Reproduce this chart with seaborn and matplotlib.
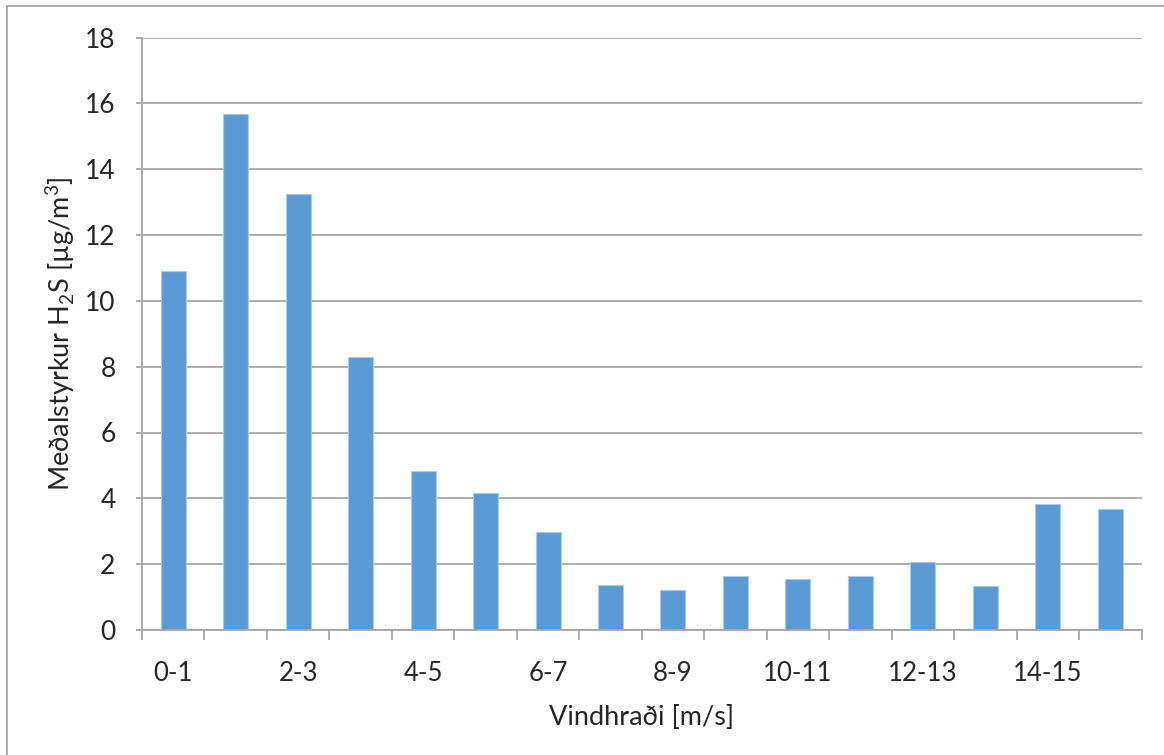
import matplotlib
matplotlib.use("Agg")
import matplotlib.pyplot as plt
from matplotlib.lines import Line2D
import seaborn as sns
import pandas as pd
import numpy as np

# Wind speed bins and mean H2S concentration per bin
bins = ["0-1", "1-2", "2-3", "3-4", "4-5", "5-6", "6-7", "7-8",
        "8-9", "9-10", "10-11", "11-12", "12-13", "13-14", "14-15", "15-16"]
mean_h2s = [10.9, 15.67, 13.26, 8.28, 4.83, 4.15, 2.97, 1.38,
            1.22, 1.64, 1.55, 1.63, 2.08, 1.33, 3.83, 3.67]
y_ticks = [0, 2, 4, 6, 8, 10, 12, 14, 16, 18]

df = pd.DataFrame({"bin": bins, "h2s": mean_h2s})

sns.set_theme(style="white")
plt.rcParams["font.family"] = ["Lato", "DejaVu Sans"]
plt.rcParams["mathtext.fontset"] = "custom"
plt.rcParams["mathtext.rm"] = "Lato"

W, H = 1164, 755
fig = plt.figure(figsize=(W / 100, H / 100), dpi=100)
ax = fig.add_axes([142 / W, 1 - 630 / H, (1141.5 - 142) / W, (630 - 37.5) / H])

grid_c = "#A6A6A6"
ax.set_axisbelow(True)

sns.barplot(data=df, x="bin", y="h2s", order=bins, color="#5B9BD5",
            width=0.4, saturation=1, edgecolor="#A9CBEA", linewidth=0.8, ax=ax)

ax.set_xlim(-0.5, len(bins) - 0.5)
ax.set_ylim(0, 18)
ax.set_yticks(y_ticks)
ax.set_yticklabels([str(t) for t in y_ticks])
ax.yaxis.grid(True, color=grid_c, linewidth=1.3)
ax.xaxis.grid(False)

# category labels on every other bin
ax.set_xticks(np.arange(0, len(bins), 2))
ax.set_xticklabels(bins[::2])
ax.set_xticks(np.arange(-0.5, len(bins), 1), minor=True)
ax.tick_params(axis="x", which="major", length=0, pad=22, labelsize=18.5)
ax.tick_params(axis="x", which="minor", length=7, width=1.3, color=grid_c, bottom=True)
ax.tick_params(axis="y", which="major", length=4, width=1.3, color=grid_c, left=True,
               labelsize=19, pad=15)

for side in ["top", "right"]:
    ax.spines[side].set_visible(False)
for side in ["left", "bottom"]:
    ax.spines[side].set_visible(True)
    ax.spines[side].set_color(grid_c)
    ax.spines[side].set_linewidth(1.3)

ax.set_xlabel("Vindhraði [m/s]", fontsize=19.5, labelpad=14)
ax.set_ylabel(r"Meðalstyrkur H$_\mathregular{2}$S [µg/m$^\mathregular{3}$]",
              fontsize=19.5, labelpad=6)

# outer chart-area border
fig.add_artist(Line2D([7 / W, 7 / W], [0, 1 - 6 / H], transform=fig.transFigure,
                      color="#A0A0A0", linewidth=1.2))
fig.add_artist(Line2D([7 / W, 1], [1 - 6 / H, 1 - 6 / H], transform=fig.transFigure,
                      color="#A0A0A0", linewidth=1.2))

fig.savefig("out.png", dpi=100)
